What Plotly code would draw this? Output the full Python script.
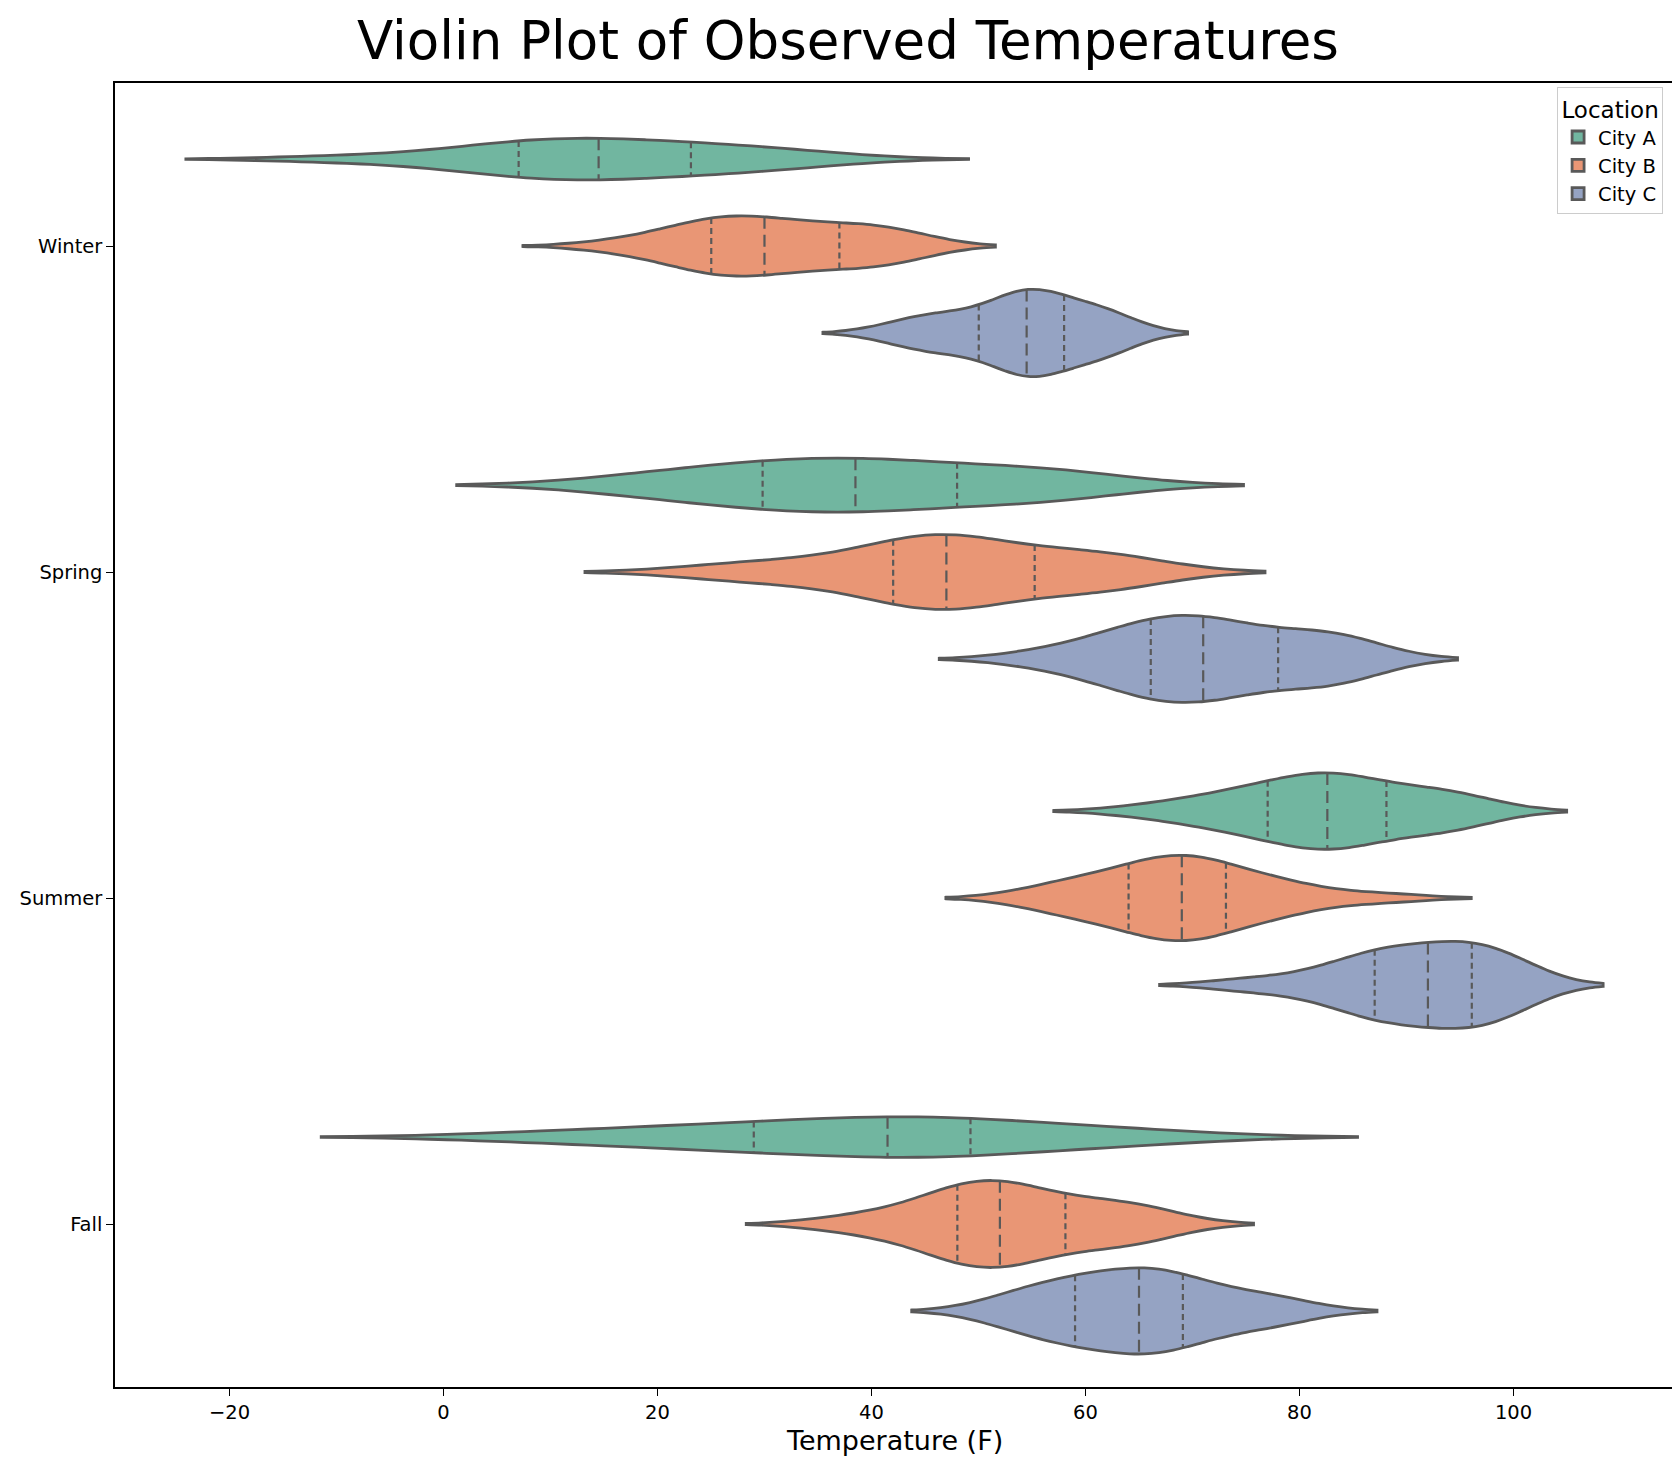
import numpy as np
import plotly.graph_objects as go

seasons = ["Winter", "Spring", "Summer", "Fall"]
cities = ["City A", "City B", "City C"]

# observed temperatures (F)
winter_a = [-11, -2, 2, 5, 6.5, 7.2, 9.5, 11, 12.5, 14, 15, 16.5, 18.5, 20.5, 22.5, 25, 27, 29, 32, 36]
winter_b = [16, 20, 22.5, 24, 24.8, 25.1, 26.5, 27.5, 28.5, 29.5, 30.5, 32, 33.5, 35, 36.5, 38.5, 40, 41.5, 42.5, 43]
winter_c = [42, 44.5, 46, 47, 49.5, 50.2, 53.5, 54, 54.2, 54.4, 54.6, 55, 55.4, 55.8, 57.4, 59.8, 60.5, 61.2, 62, 63]
spring_a = [15.5, 20, 23, 26, 29, 30.1, 32, 34, 36, 37.5, 39.5, 41, 43, 45, 47, 51, 54, 56, 58, 60.5]
spring_b = [25, 30, 34, 38, 41.5, 42.2, 44.8, 45.5, 46.2, 46.7, 47.3, 47.9, 48.8, 50.5, 54.5, 57.5, 59, 61, 63, 65]
spring_c = [55.6, 60, 62.5, 64, 65.5, 66.3, 67.5, 68.5, 69.5, 70.5, 71.5, 72.5, 74, 75.5, 77, 81, 82, 83, 84, 85.5]
summer_a = [66, 70.5, 73, 75, 76.5, 77.2, 80, 81.2, 82, 82.4, 82.8, 83.4, 84.2, 85.5, 87.5, 90, 92, 93.5, 94.5, 96]
summer_b = [55.5, 58, 60, 62, 63.5, 64.2, 66.5, 67.5, 68.3, 68.8, 69.2, 69.7, 70.3, 71.2, 72.5, 75, 76.5, 78, 80, 87.5]
summer_c = [74.6, 80, 83, 85, 86.5, 87.2, 88, 89, 90, 91, 93, 93.8, 94.5, 95.2, 95.8, 97, 98, 99, 100, 100.7]
fall_a = [6.5, 14, 19, 23, 27.5, 29.5, 32, 35, 38, 40.5, 42.5, 44, 45.5, 47, 48.5, 51.5, 55, 59, 63, 67.5]
fall_b = [37, 41.5, 44.5, 46.5, 47.5, 48.2, 49.5, 50.5, 51, 51.6, 52.4, 53.2, 54.5, 56, 57.5, 60, 62, 63.5, 65, 67]
fall_c = [52, 54, 56, 57.5, 58.5, 59.2, 61, 62.5, 63.5, 64.5, 65.5, 66.2, 67, 67.8, 68.8, 70, 72, 75, 77, 79]

samples = {
    "Winter": [winter_a, winter_b, winter_c],
    "Spring": [spring_a, spring_b, spring_c],
    "Summer": [summer_a, summer_b, summer_c],
    "Fall": [fall_a, fall_b, fall_c],
}

# Set2, desaturated the way seaborn does for violins
colors = ["#71b6a0", "#e99675", "#95a3c3"]
edge = "#595959"

GAP = 0.2
bdpos = 0.5 * (1 - GAP) / len(cities)          # half width of one violin slot
offsets = [2 * 0.5 * (-0.5 + (k + 0.5) / len(cities)) * (1 - GAP) for k in range(len(cities))]


def scott_bw(v):
    v = np.asarray(v, float)
    return v.std(ddof=1) * len(v) ** -0.2


def kde(v, bw, pts):
    v = np.asarray(v, float)
    z = (np.atleast_1d(pts)[:, None] - v[None, :]) / bw
    return np.exp(-0.5 * z ** 2).sum(axis=1) / (len(v) * bw * np.sqrt(2 * np.pi))


def kde_grid(v, bw):
    # same sampling plotly uses to draw the outline
    lo, hi = min(v) - 2 * bw, max(v) + 2 * bw
    n = int(np.ceil((hi - lo) / (bw / 3)))
    return np.linspace(lo, hi, n + 1)


bws = {s: [scott_bw(v) for v in samples[s]] for s in seasons}
# widths are scaled within each season (seaborn's scale_hue)
smax = {s: max(kde(v, b, kde_grid(v, b)).max() for v, b in zip(samples[s], bws[s]))
        for s in seasons}
lo_all = min(min(v) - 2 * b for s in seasons for v, b in zip(samples[s], bws[s]))
hi_all = max(max(v) + 2 * b for s in seasons for v, b in zip(samples[s], bws[s]))
pad = 0.05 * (hi_all - lo_all)

fig = go.Figure()
shapes = []
for i, season in enumerate(seasons):
    for k, city in enumerate(cities):
        vals = samples[season][k]
        bw = bws[season][k]
        fig.add_trace(go.Violin(
            x=vals, y=[season] * len(vals), orientation="h",
            name=city, legendgroup=city, showlegend=(i == 0),
            offsetgroup=city, alignmentgroup="all",
            scalegroup=season, scalemode="width", spanmode="soft",
            bandwidth=bw, points=False,
            box_visible=False, meanline_visible=False,
            fillcolor=colors[k], opacity=1,
            line=dict(color=edge, width=2.8),
            hoverinfo="skip",
        ))
        # quartile lines like seaborn inner="quartile"
        pos = i + offsets[k]
        for q, dash in zip(np.percentile(vals, [25, 50, 75]),
                           ["6px,4px", "12px,6px", "6px,4px"]):
            half = kde(vals, bw, q)[0] / smax[season] * bdpos
            shapes.append(dict(type="line", xref="x", yref="y",
                               x0=q, x1=q, y0=pos - half, y1=pos + half,
                               line=dict(color=edge, width=2.2, dash=dash)))

fig.update_layout(
    width=1680, height=1472,
    margin=dict(l=105, r=12, t=75, b=93),
    paper_bgcolor="white", plot_bgcolor="white",
    font=dict(family="DejaVu Sans", size=19.5, color="black"),
    title=dict(text="Violin Plot of Observed Temperatures",
               x=0.5, xref="container", xanchor="center",
               y=0.978, yref="container", yanchor="middle",
               font=dict(size=53, color="black")),
    violinmode="group", violingap=GAP, violingroupgap=0,
    legend=dict(title=dict(text="Location", side="top center"),
                x=0.993, y=0.997, xanchor="right", yanchor="top",
                bordercolor="#cccccc", borderwidth=1,
                bgcolor="rgba(255,255,255,0.8)", tracegroupgap=0,
                font=dict(size=19.5)),
    xaxis=dict(range=[lo_all - pad, hi_all + pad], dtick=20,
               ticks="outside", ticklen=7, tickwidth=1.4, tickcolor="black",
               showline=True, mirror=True, linecolor="black", linewidth=1.5,
               showgrid=False, zeroline=False),
    yaxis=dict(categoryorder="array", categoryarray=seasons, range=[3.5, -0.5],
               ticks="outside", ticklen=7, tickwidth=1.4, tickcolor="black",
               showline=True, mirror=True, linecolor="black", linewidth=1.5,
               showgrid=False, zeroline=False),
    shapes=shapes,
    annotations=[dict(text="Temperature (F)", x=0.5, y=-0.0414,
                      xref="paper", yref="paper", xanchor="center", yanchor="middle",
                      showarrow=False, font=dict(size=27))],
)

fig.write_html("out.html")
